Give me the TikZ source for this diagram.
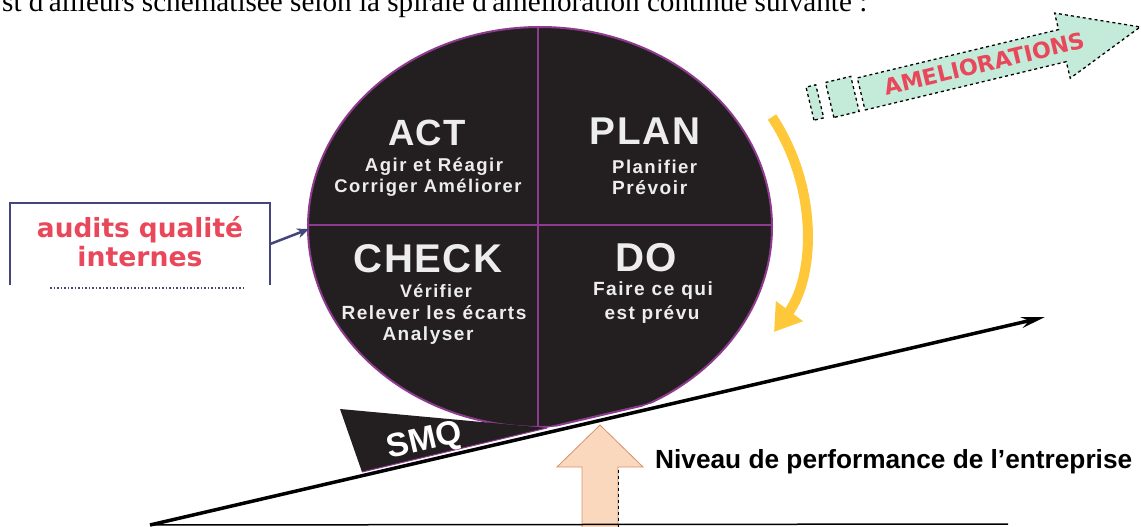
\documentclass[tikz,border=0pt]{standalone}
\usepackage{fontspec}
\setmainfont{Liberation Sans}
\newfontfamily\introfont{Liberation Serif}
\newfontfamily\spacedsans[LetterSpace=8]{Liberation Sans}
\newfontfamily\titlesans[LetterSpace=4]{Liberation Sans}
\newfontfamily\roundsans{DejaVu Sans}
\usetikzlibrary{arrows.meta}
\definecolor{disk}{HTML}{231F20}
\definecolor{rim}{HTML}{8E3A8E}
\definecolor{mint}{HTML}{C4EAD9}
\definecolor{pinkred}{HTML}{E8485A}
\definecolor{gold}{HTML}{FFC83A}
\definecolor{peach}{HTML}{F9D8BE}
\definecolor{peachedge}{HTML}{D9906A}
\definecolor{navy}{HTML}{44457A}
\definecolor{txtw}{HTML}{EDEDED}
\newcommand\fitw[2]{\resizebox{#1pt}{!}{#2}}
\begin{document}
\begin{tikzpicture}[x=1pt,y=-1pt,
  wtitle/.style={text=txtw, inner sep=0, font=\titlesans\bfseries},
  wsub/.style={text=txtw, inner sep=0, font=\spacedsans\bfseries},
  redtxt/.style={text=pinkred, inner sep=0, font=\roundsans\bfseries},
  rimline/.style={rim, line width=2pt}]
\useasboundingbox (0,0) rectangle (1141,527);

% intro text (cut at the top)
\node[anchor=base west, inner sep=0] (intro) at (2,12)
  {\fitw{865}{\introfont st d'ailleurs schématisée selon la spirale d'amélioration continue suivante :}};

% disk
\def\halfplane{(0,0) -- (1141,0) -- (1141,289.7) -- (0,554.9) -- cycle}
\def\diskpath{(540,227) ellipse [x radius=232, y radius=200]}
\begin{scope}
  \clip \halfplane;
  \fill[disk] \diskpath;
  \begin{scope}
    \clip \diskpath;
    \draw[rimline] (538,0) -- (538,460);
    \draw[rimline] (290,225) -- (790,225);
  \end{scope}
  \draw[rimline] \diskpath;
\end{scope}
\begin{scope}
  \clip \diskpath;
  \draw[rimline] (0,554.9) -- (1141,289.7);
\end{scope}
\coordinate (diskW) at (309,229);

% quadrant texts
\node[wtitle] (act) at (427,133) {\fitw{78}{ACT}};
\node[wsub] (act1) at (434,167) {\fitw{138}{Agir et Réagir}};
\node[wsub] (act2) at (428,188) {\fitw{187}{Corriger Améliorer}};
\node[wtitle] (plan) at (645,131) {\fitw{110}{PLAN}};
\node[wsub, anchor=west] (plan1) at (612,167) {\fitw{85}{Planifier}};
\node[wsub, anchor=west] (plan2) at (612,188) {\fitw{75}{Prévoir}};
\node[wtitle] (check) at (428,259) {\fitw{149}{CHECK}};
\node[wsub] (check1) at (436,291) {\fitw{72}{Vérifier}};
\node[wsub] (check2) at (434,313) {\fitw{185}{Relever les écarts}};
\node[wsub] (check3) at (428,336) {\fitw{91}{Analyser}};
\node[wtitle] (do) at (646,258) {\fitw{62}{DO}};
\node[wsub] (do1) at (653,291) {\fitw{120}{Faire ce qui}};
\node[wsub] (do2) at (652,315) {\fitw{95}{est prévu}};

% SMQ wedge
\fill[disk] (340,409) -- (547,428) -- (362,472) -- cycle;
\draw[rim, line width=1pt] (362,472) -- (547,428);
\node[text=white, inner sep=0, rotate=13, font=\bfseries] (smq) at (425,442) {\fitw{76}{SMQ}};

% peach arrow
\filldraw[fill=peach, draw=peachedge, line width=0.8pt]
  (582,530) -- (582,467) -- (557,467) -- (600,425) -- (643,467) -- (618,467) -- (618,530) -- cycle;
\draw[dashed, line width=1pt] (618,470) -- (618,527);

% bottom baseline and rising line
\coordinate (lineS) at (150,525);
\coordinate (lineE) at (1045,317);
\coordinate (baseE) at (1008,524);
\draw[line width=1.5pt] (lineS) -- (baseE);
\draw[line width=3.5pt, -{Stealth[length=24pt,width=11pt]}] (lineS) -- (lineE);

\node[anchor=west, inner sep=0] (niveau) at (655,462)
  {\fitw{477}{\bfseries Niveau de performance de l'entreprise}};

% yellow cycle arrow
\coordinate (goldS) at (772,117);
\coordinate (goldE) at (774,332);
\draw[gold, line width=10pt, -{Triangle[length=26pt,width=32pt]}]
  (goldS) .. controls (820,190) and (814,278) .. (goldE);

% audits box
\node[minimum width=260pt, minimum height=82pt, inner sep=0] (audits) at (140,244) {};
\draw[navy, line width=2pt] (audits.south west) -- (audits.north west) -- (audits.north east) -- (audits.south east);
\draw[navy, line width=1.5pt, dotted] (50,288) -- (243,288);
\node[redtxt] (aud1) at (140,230) {\fitw{206}{audits qualité}};
\node[redtxt] (aud2) at (140,257) {\fitw{125}{internes}};
\draw[navy, line width=2.5pt, -{Stealth[length=12pt,width=10pt]}] (audits.east) -- (diskW);

% AMELIORATIONS arrow
\begin{scope}[shift={(865,110)}, rotate=13.5]
  \filldraw[fill=mint, draw=black, line width=1.3pt, dashed]
    (0,0) -- (207,0) -- (207,17) -- (287,-16.5) -- (207,-50) -- (207,-33) -- (0,-33) -- cycle;
  \filldraw[fill=mint, draw=black, line width=1.3pt, dashed] (-32,0) rectangle (-6,-36);
  \filldraw[fill=mint, draw=black, line width=1.3pt, dashed] (-52,-2) rectangle (-42,-36);
  \node[redtxt, rotate=13.5] (amel) at (127,-17) {\fitw{206}{AMELIORATIONS}};
\end{scope}
\end{tikzpicture}
\end{document}
